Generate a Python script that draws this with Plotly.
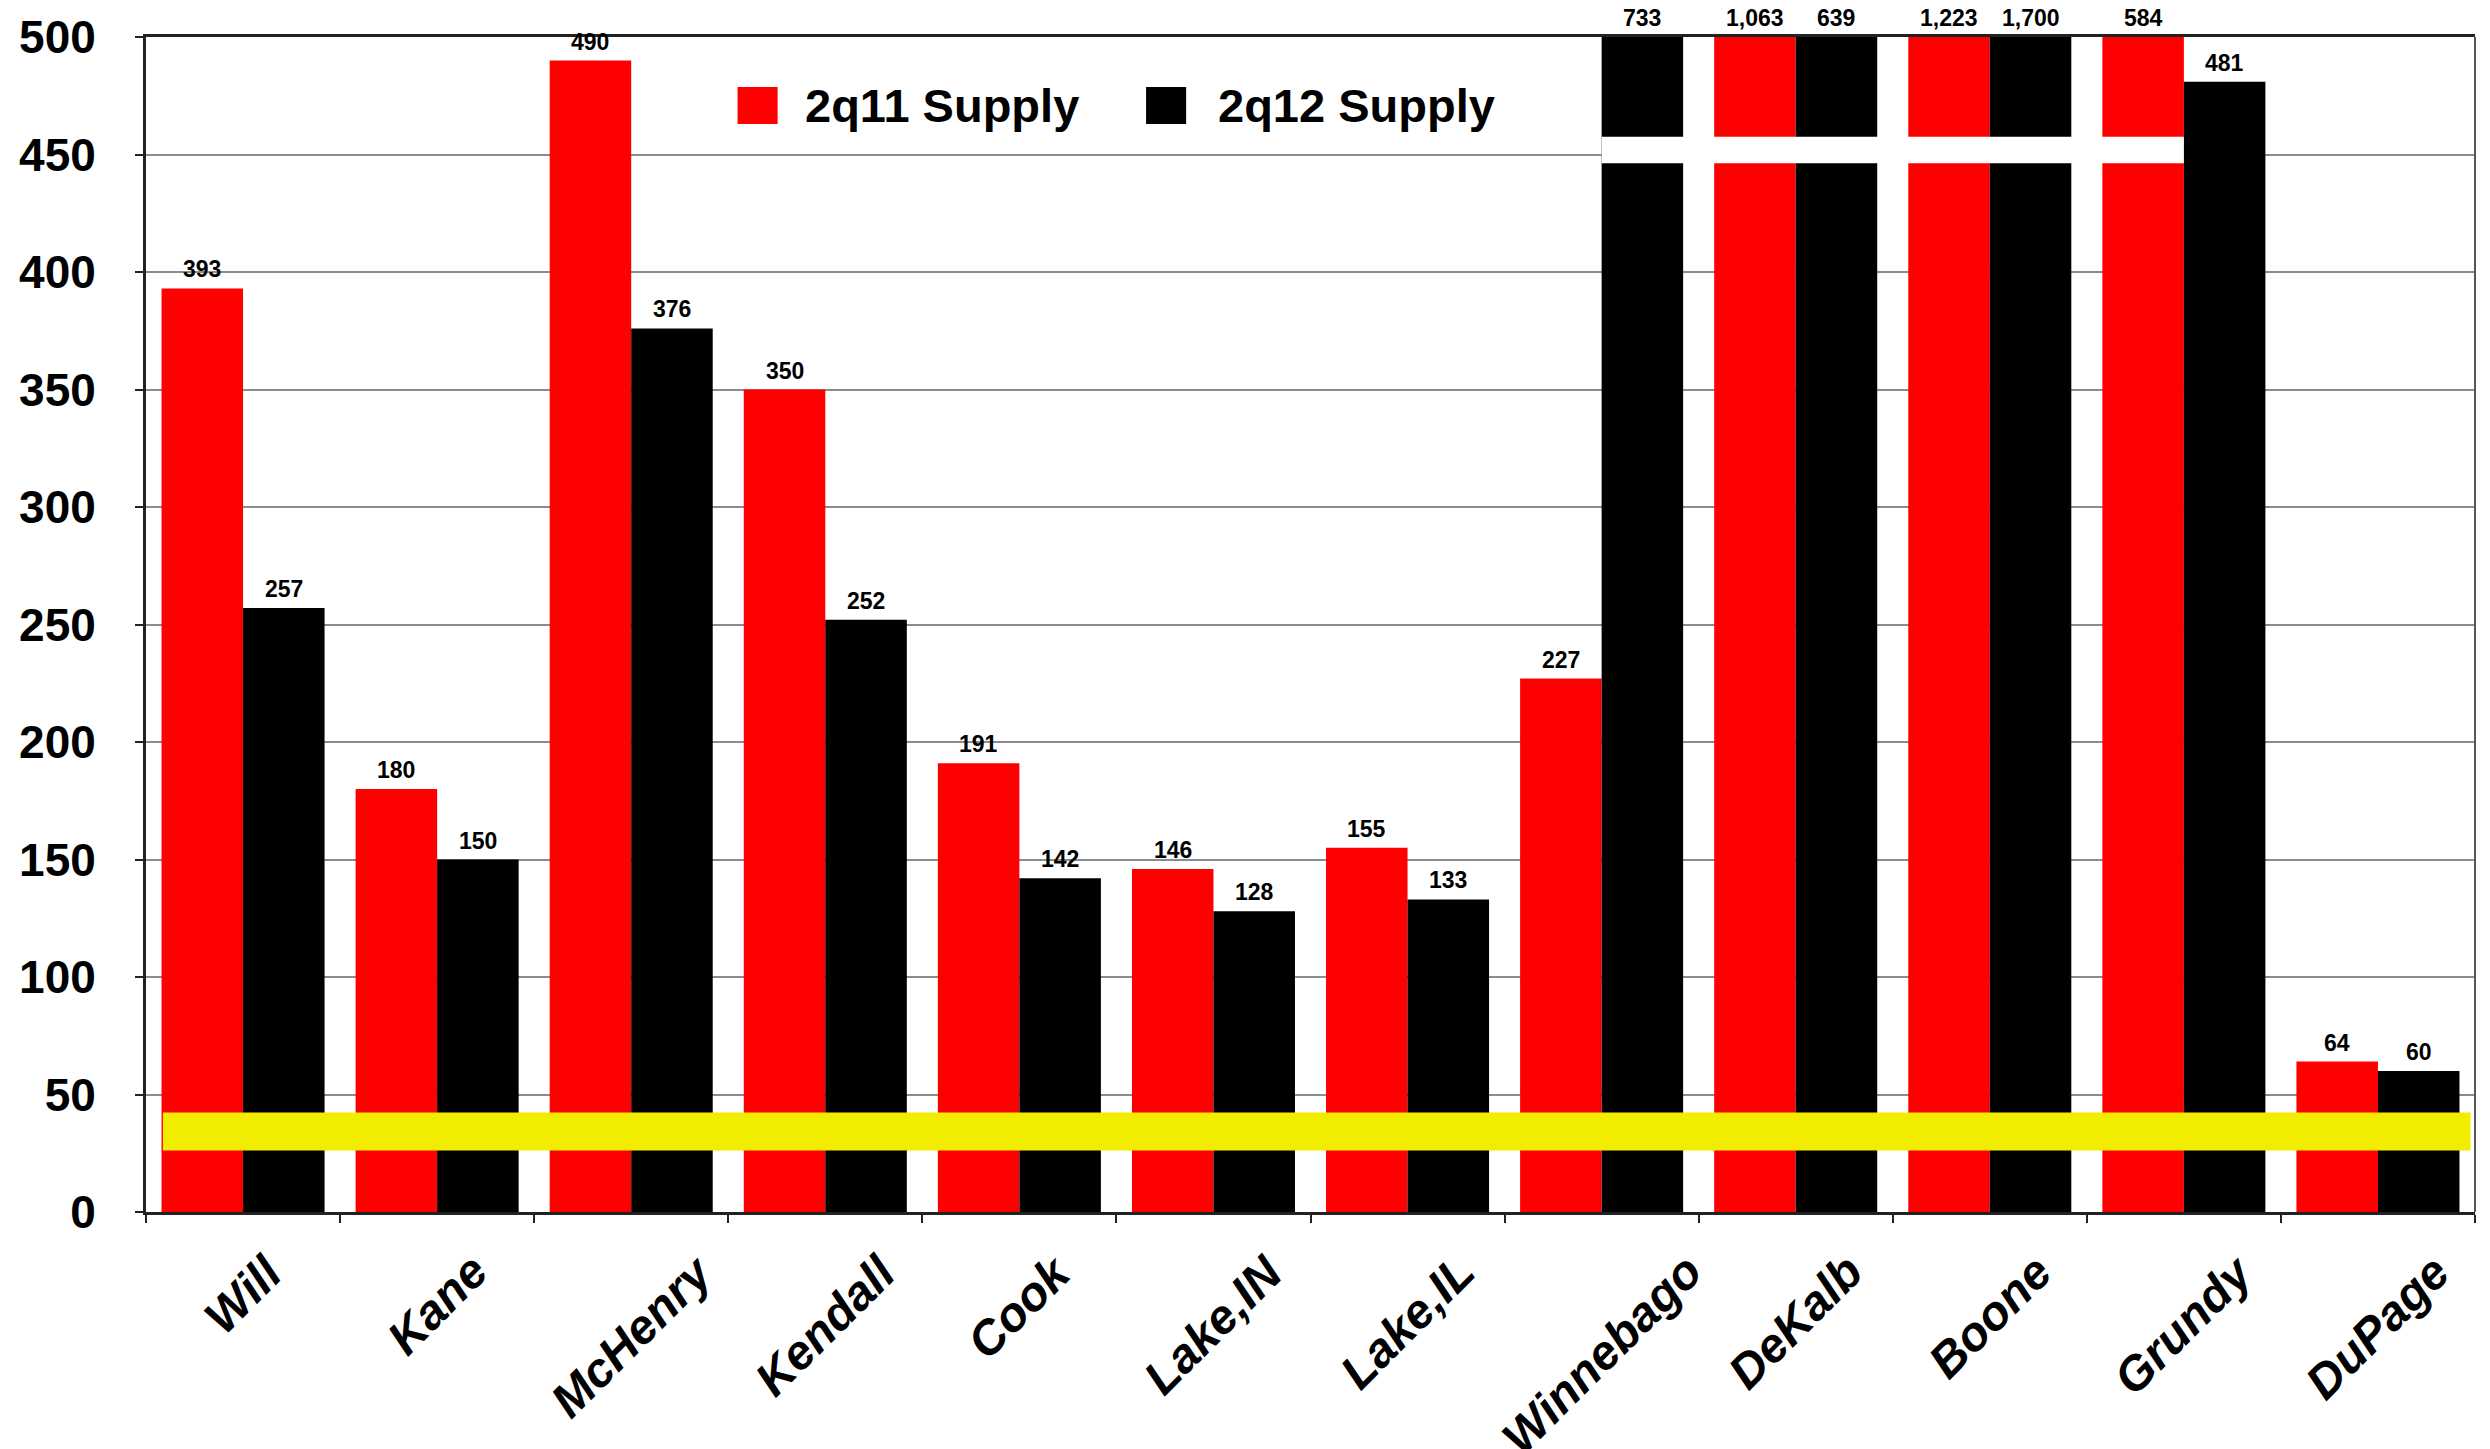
import plotly.graph_objects as go

# County supply, second quarter 2011 vs 2012
counties = ["Will", "Kane", "McHenry", "Kendall", "Cook", "Lake,IN", "Lake,IL",
            "Winnebago", "DeKalb", "Boone", "Grundy", "DuPage"]
series_names = ["2q11 Supply", "2q12 Supply"]
supply_2q11 = [393, 180, 490, 350, 191, 146, 155, 227, 1063, 1223, 584, 64]
supply_2q12 = [257, 150, 376, 252, 142, 128, 133, 733, 639, 1700, 481, 60]
y_ticks = [0, 50, 100, 150, 200, 250, 300, 350, 400, 450, 500]

Y_MAX = 500
BAR_GAP = 0.16
RED = "#FF0000"
BLACK = "#000000"
FONT = "Liberation Sans"

fig = go.Figure()
for name, vals, col in [(series_names[0], supply_2q11, RED),
                        (series_names[1], supply_2q12, BLACK)]:
    fig.add_trace(go.Bar(x=counties, y=vals, name=name, marker_color=col,
                         marker_line_width=0, showlegend=False))

# value labels above each bar (pinned to the top edge when a bar runs off-scale)
half = (1 - BAR_GAP) / 4
annotations = []
for offs, vals in [(-half, supply_2q11), (half, supply_2q12)]:
    for i, v in enumerate(vals):
        annotations.append(dict(
            x=i + offs, y=min(v, Y_MAX), xref="x", yref="y",
            text=f"{v:,}", showarrow=False, yanchor="bottom", yshift=4,
            font=dict(family=FONT, size=23, color="black", weight="bold")))

# slanted county names, each centred under its category and hung from the axis
for name in counties:
    annotations.append(dict(
        x=name, y=0, xref="x", yref="y", text=name, showarrow=False,
        textangle=-45, xanchor="center", yanchor="top", yshift=-30,
        font=dict(family=FONT, size=48, color="black", weight="bold",
                  style="italic")))

# legend drawn as swatches + bold text
legend_items = [(series_names[0], RED, 0.254, 0.282),
                (series_names[1], BLACK, 0.4294, 0.4594)]
shapes = []
for name, col, sx, tx in legend_items:
    shapes.append(dict(type="rect", xref="paper", yref="paper",
                       x0=sx, x1=sx + 0.0172, y0=0.926, y1=0.9574,
                       fillcolor=col, line_width=0, layer="above"))
    annotations.append(dict(x=tx, y=0.9413, xref="paper", yref="paper",
                            text=name, showarrow=False, xanchor="left",
                            yanchor="middle",
                            font=dict(family=FONT, size=47, color="black",
                                      weight="bold")))

# axis-break gap across the off-scale bars
shapes.append(dict(type="rect", xref="x", yref="y", x0=7, x1=10,
                   y0=446.3, y1=457.6, fillcolor="white", line_width=0,
                   layer="above"))
# yellow reference band near the baseline
shapes.append(dict(type="rect", xref="x", yref="y", x0=-0.413, x1=11.477,
                   y0=26.2, y1=42.3, fillcolor="#F2EC00", line_width=0,
                   layer="above"))
# right frame edge
shapes.append(dict(type="line", xref="paper", yref="paper", x0=1, x1=1,
                   y0=0, y1=1, line=dict(color="#555555", width=2),
                   layer="above"))

fig.update_layout(
    width=2490, height=1449,
    margin=dict(l=146, r=15, t=37, b=237, autoexpand=False),
    paper_bgcolor="white", plot_bgcolor="white",
    barmode="group", bargap=BAR_GAP, bargroupgap=0,
    showlegend=False,
    annotations=annotations, shapes=shapes,
    xaxis=dict(
        type="category", tickson="boundaries", ticks="outside", ticklen=8,
        tickwidth=2, tickcolor="#222222", showticklabels=False,
        automargin=False,
        showline=True, linecolor="#222222", linewidth=3, mirror=True,
        showgrid=False,
    ),
    yaxis=dict(
        range=[0, Y_MAX], tickmode="array", tickvals=y_ticks,
        ticktext=[str(t) for t in y_ticks],
        ticks="outside", ticklen=8, tickwidth=2, tickcolor="#222222",
        ticklabelstandoff=30, automargin=False,
        showline=True, linecolor="#222222", linewidth=3,
        showgrid=True, gridcolor="#8C8C8C", gridwidth=2, zeroline=False,
        tickfont=dict(family=FONT, size=46, color="black", weight="bold"),
    ),
)

fig.write_html("out.html")
